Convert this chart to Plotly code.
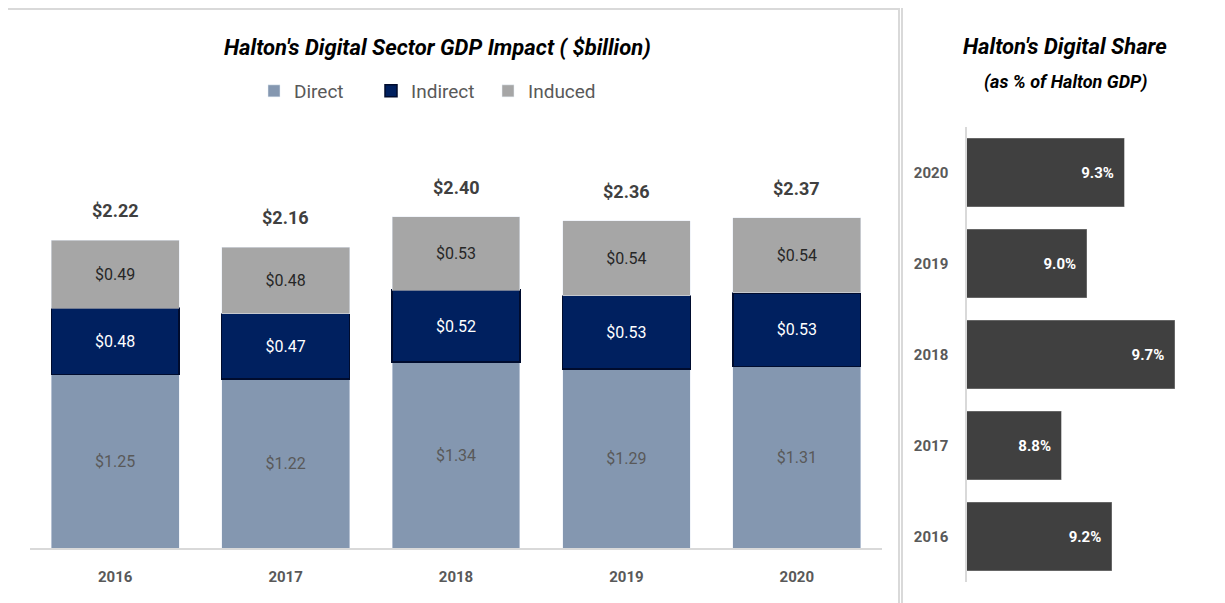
import plotly.graph_objs as go

# data
years = ['2016', '2017', '2018', '2019', '2020']
direct = [1.25, 1.22, 1.34, 1.29, 1.31]
indirect = [0.48, 0.47, 0.52, 0.53, 0.53]
induced = [0.49, 0.48, 0.53, 0.54, 0.54]
totals = [2.22, 2.16, 2.40, 2.36, 2.37]
share = [9.2, 8.8, 9.7, 9.0, 9.3]

W, H = 1225, 603
OFF = 8  # page body margin
FONT = "Roboto, Arial, sans-serif"
GREY = '#595959'


def px(x):
    return (x - OFF) / W


def py(y):
    return 1 - (y - OFF) / H


fig = go.Figure()

# stacked GDP impact bars
fig.add_trace(go.Bar(
    x=years, y=direct, name='Direct',
    marker=dict(color='#8497B0'),
    text=[f'${v:.2f}' for v in direct], textposition='inside',
    insidetextanchor='middle', textfont=dict(color=GREY, size=16),
    xaxis='x', yaxis='y'
))
fig.add_trace(go.Bar(
    x=years, y=indirect, name='Indirect',
    marker=dict(color='#00205F', line=dict(color='#000C2E', width=1.5)),
    text=[f'${v:.2f}' for v in indirect], textposition='inside',
    insidetextanchor='middle', textfont=dict(color='white', size=16),
    xaxis='x', yaxis='y'
))
fig.add_trace(go.Bar(
    x=years, y=induced, name='Induced',
    marker=dict(color='#A6A6A6'),
    text=[f'${v:.2f}' for v in induced], textposition='inside',
    insidetextanchor='middle', textfont=dict(color='#262626', size=16),
    xaxis='x', yaxis='y'
))

# digital share bars
fig.add_trace(go.Bar(
    y=years, x=share, orientation='h', showlegend=False,
    marker=dict(color='#404040', line=dict(color='#8c8c8c', width=0.5)),
    text=[f'<b>{v:.1f}%</b>\u00a0\u00a0' for v in share], textposition='inside',
    insidetextanchor='end', textfont=dict(color='white', size=15),
    xaxis='x2', yaxis='y2'
))

annotations = []
# total labels on top of stacks (category index positions)
for idx, (ttl, d, i, n) in enumerate(zip(totals, direct, indirect, induced)):
    annotations.append(dict(
        x=idx, y=d + i + n, xref='x', yref='y', xanchor='center',
        yanchor='bottom', yshift=17,
        text=f'<b>${ttl:.2f}</b>', showarrow=False,
        font=dict(size=18, color='#404040')
    ))

annotations += [
    dict(x=px(437), y=py(47), xref='paper', yref='paper', showarrow=False,
         xanchor='center', yanchor='middle',
         text="<b><i>Halton's Digital Sector GDP Impact ( $billion)</i></b>",
         font=dict(size=22, color='black')),
    dict(x=px(1065), y=py(46), xref='paper', yref='paper', showarrow=False,
         xanchor='center', yanchor='middle',
         text="<b><i>Halton's Digital Share</i></b>",
         font=dict(size=22, color='black')),
    dict(x=px(1065), y=py(82), xref='paper', yref='paper', showarrow=False,
         xanchor='center', yanchor='middle',
         text="<b><i>(as % of Halton GDP)</i></b>",
         font=dict(size=18, color='black')),
]

shapes = [
    dict(type='rect', xref='paper', yref='paper', x0=px(6), x1=px(899),
         y0=-0.05, y1=py(9), line=dict(color='#D9D9D9', width=2)),
    dict(type='rect', xref='paper', yref='paper', x0=px(902), x1=1.05,
         y0=-0.05, y1=py(7), line=dict(color='#D9D9D9', width=2)),
]

fig.update_layout(
    width=W, height=H,
    margin=dict(l=0, r=0, t=0, b=0),
    paper_bgcolor='white', plot_bgcolor='white',
    font=dict(family=FONT, color=GREY),
    barmode='stack', bargap=0.25,
    showlegend=True,
    legend=dict(orientation='h', x=px(254), y=py(91), xanchor='left',
                yanchor='middle', font=dict(size=19, color=GREY),
                entrywidth=72, entrywidthmode='pixels',
                traceorder='normal', bgcolor='rgba(0,0,0,0)'),
    xaxis=dict(type='category', domain=[px(30), px(882)], showgrid=False,
               showline=True, linecolor='#D9D9D9', linewidth=2, ticks='',
               automargin=False, tickfont=dict(size=15, color=GREY),
               ticklabelstandoff=14, tickprefix='<b>', ticksuffix='</b>'),
    yaxis=dict(domain=[py(548), py(132)], range=[0, 3.0], visible=False,
               automargin=False),
    xaxis2=dict(domain=[px(967), px(1215)], anchor='y2', range=[8.05, 10.02],
                visible=False, automargin=False),
    yaxis2=dict(type='category', domain=[py(582), py(127)], anchor='x2',
                showgrid=False, showline=True, linecolor='#D9D9D9',
                linewidth=1.5, ticks='', automargin=False,
                tickfont=dict(size=15, color=GREY), ticklabelstandoff=14,
                tickprefix='<b>', ticksuffix='</b>'),
    annotations=annotations,
    shapes=shapes,
)

fig.write_html("out.html")
